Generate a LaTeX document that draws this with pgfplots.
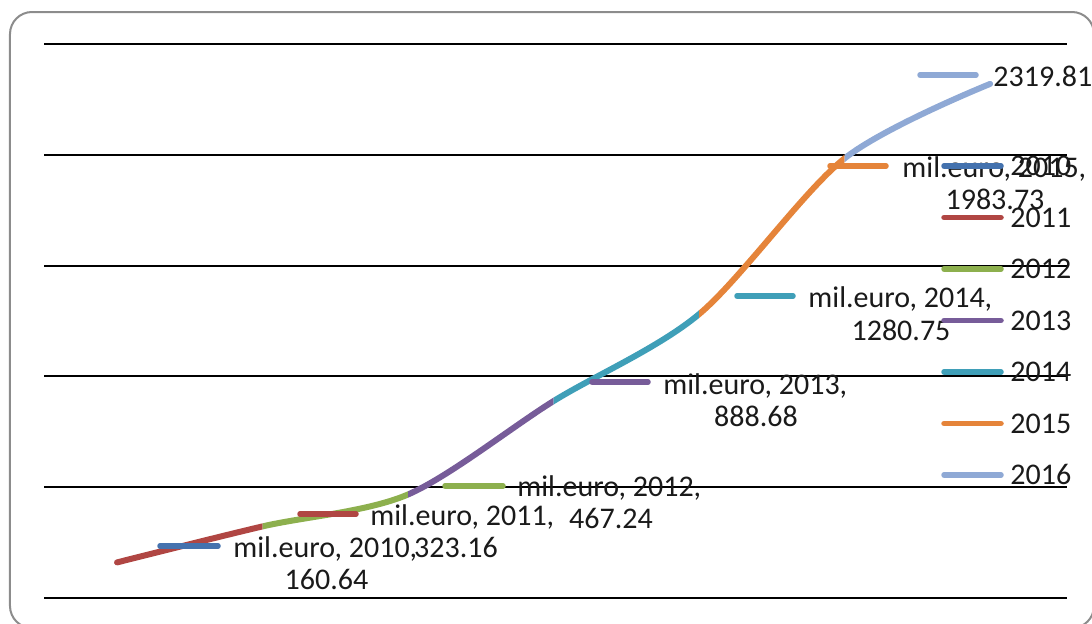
\documentclass[border=0pt]{standalone}
\usepackage{pgfplots}
\pgfplotsset{compat=1.18}
\usepackage{pgfplotstable}
\usepackage{fontspec}
\setmainfont{Carlito}
\definecolor{c2010}{HTML}{4472AE}
\definecolor{c2011}{HTML}{B04643}
\definecolor{c2012}{HTML}{8DB04E}
\definecolor{c2013}{HTML}{775C99}
\definecolor{c2014}{HTML}{3F9FB8}
\definecolor{c2015}{HTML}{E5843A}
\definecolor{c2016}{HTML}{8FA9D5}
\definecolor{frame}{HTML}{8C8C8C}
\definecolor{txt}{HTML}{1A1A1A}

\pgfplotstableread{
year value
2010 160.64
2011 323.16
2012 467.24
2013 888.68
2014 1280.75
2015 1983.73
2016 2319.81
}\revenue

\begin{document}
\begin{tikzpicture}
\begin{axis}[
    scale only axis, width=511.5pt, height=277pt,
    at={(0,0)}, anchor=south west,
    xmin=2009.498, xmax=2016.529, ymin=0, ymax=2500,
    xtick=\empty, ytick={0,500,...,2500}, yticklabels={},
    major tick length=0pt,
    axis line style={draw=none},
    ymajorgrids, grid style={black, line width=1pt},
    every axis plot/.append style={smooth, line width=3pt, line cap=round, no markers},
  ]
  % each year's series is the stretch of the curve that ends at that year
  \begin{scope}\clip (2009,-500) rectangle (2011,3000);
    \addplot[c2011] table {\revenue};\end{scope}
  \begin{scope}\clip (2011,-500) rectangle (2012,3000);
    \addplot[c2012] table {\revenue};\end{scope}
  \begin{scope}\clip (2012,-500) rectangle (2013,3000);
    \addplot[c2013] table {\revenue};\end{scope}
  \begin{scope}\clip (2013,-500) rectangle (2014,3000);
    \addplot[c2014] table {\revenue};\end{scope}
  \begin{scope}\clip (2014,-500) rectangle (2015,3000);
    \addplot[c2015] table {\revenue};\end{scope}
  \begin{scope}\clip (2015,-500) rectangle (2017,3000);
    \addplot[c2016] table {\revenue};\end{scope}
\end{axis}

\pgfresetboundingbox
\begin{scope}[x=0.5pt, y=-0.5pt, shift={(-22pt,299pt)},
    every node/.style={inner sep=0pt, text=txt, font=\fontsize{15pt}{18pt}\selectfont},
    key/.style={line width=2.75pt, line cap=round}]
  \path[use as bounding box] (0,0) rectangle (1092,623);
  \draw[frame, line width=1pt, rounded corners=11pt] (10,12) rectangle (1094,628);

  % data labels
  \draw[key, c2010] (160,546) -- (218,546);
  \node[anchor=base west] at (233,557.5) {mil.euro, 2010,};
  \node[anchor=base] at (326.5,589.5) {160.64};

  \draw[key, c2011] (300,514) -- (356,514);
  \node[anchor=base west] at (370,525.5) {mil.euro, 2011,};
  \node[anchor=base] at (456,557.5) {323.16};

  \draw[key, c2012] (445,486) -- (503,486);
  \node[anchor=base west] at (517,496.5) {mil.euro, 2012,};
  \node[anchor=base] at (611,528.5) {467.24};

  \draw[key, c2013] (592,382) -- (648,382);
  \node[anchor=base west] at (663,394.5) {mil.euro, 2013,};
  \node[anchor=base] at (756,426.5) {888.68};

  \draw[key, c2014] (737,296) -- (793,296);
  \node[anchor=base west] at (808,307.5) {mil.euro, 2014,};
  \node[anchor=base] at (901,340.5) {1280.75};

  \draw[key, c2015] (830,166) -- (886,166);
  \node[anchor=base west] at (902,177.5) {mil.euro, 2015,};
  \node[anchor=base] at (995,209.5) {1983.73};

  \draw[key, c2016] (920,75) -- (976,75);
  \node[anchor=base west] at (993,86.5) {2319.81};

  % legend
  \foreach \yr/\py in {2010/166,2011/217.5,2012/269,2013/320.5,2014/372,2015/423.5,2016/475}{
    \draw[key, c\yr] (944,\py) -- (1001,\py);
    \node[anchor=base west] at (1010,\py+9.5) {\yr};
  }
\end{scope}
\end{tikzpicture}
\end{document}
